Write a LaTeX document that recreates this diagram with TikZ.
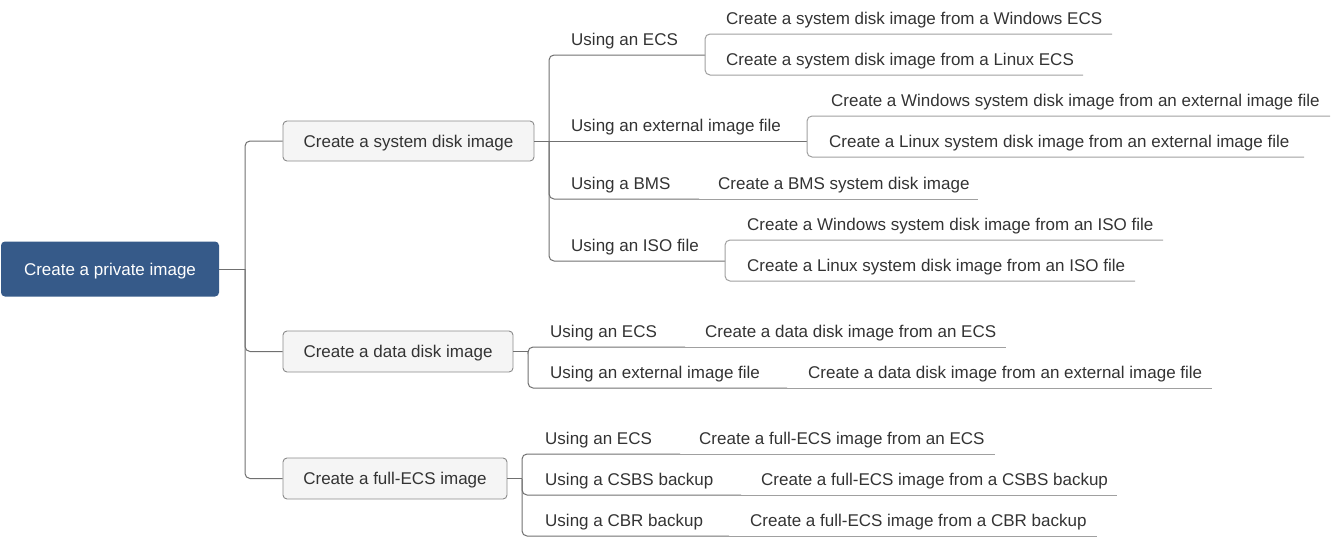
\documentclass[tikz,border=0pt]{standalone}
\usepackage{fontspec}
\setmainfont{Liberation Sans}
\definecolor{rootblue}{HTML}{365A89}
\definecolor{txt}{HTML}{333333}
\definecolor{conn}{HTML}{707070}
\definecolor{leafln}{HTML}{A0A0A0}
\definecolor{boxfill}{HTML}{F5F5F5}
\definecolor{boxdraw}{HTML}{8A8A8A}
\tikzset{
  lbl/.style={anchor=base west, inner sep=0pt, text=txt, yshift=-1pt, font=\fontsize{17}{20}\selectfont},
  rootbox/.style={fill=rootblue, rounded corners=4pt, text=white, inner sep=0pt, text height=12.2pt, text depth=0pt, font=\fontsize{17}{20}\selectfont},
  midbox/.style={fill=boxfill, draw=boxdraw, line width=0.9pt, rounded corners=4pt, text=txt, inner sep=0pt, text height=12.2pt, text depth=0pt, font=\fontsize{17}{20}\selectfont},
  cn/.style={draw=conn, line width=1pt, rounded corners=5pt},
  leaf/.style={draw=leafln, line width=1pt, rounded corners=5pt},
}
\begin{document}
\begin{tikzpicture}[x=1pt,y=-1pt]
\useasboundingbox (0,0) rectangle (1333,538);
% root and level 1
\node[rootbox, minimum width=218pt, minimum height=55pt] (root) at (110,269) {Create a private image};
\node[midbox, minimum width=251pt, minimum height=40pt] (sys) at (408.5,141) {Create a system disk image};
\node[midbox, minimum width=230pt, minimum height=41pt] (data) at (398,351.5) {Create a data disk image};
\node[midbox, minimum width=224pt, minimum height=41pt] (full) at (395,478.5) {Create a full-ECS image};
\coordinate (r) at (245,269);
\draw[cn] (root.east) -- (r);
\draw[cn] (r) |- (sys.west);
\draw[cn] (r) |- (data.west);
\draw[cn] (r) |- (full.west);

% ---------- system disk ----------
\coordinate (ks) at (549,141);
\draw[cn] (sys.east) -- (ks);
\node[lbl] (s1) at (571,44.5) {Using an ECS};
\node[lbl] (s2) at (571,130.5) {Using an external image file};
\node[lbl] (s3) at (571,188.5) {Using a BMS};
\node[lbl] (s4) at (571,250.5) {Using an ISO file};
\coordinate (js1) at (705,55);
\coordinate (js2) at (807,141);
\coordinate (js3) at (699,199);
\coordinate (js4) at (725,261);
\draw[cn] (ks) |- (js1);
\draw[cn] (ks) -- (js2);
\draw[cn] (ks) |- (js3);
\draw[cn] (ks) |- (js4);

\node[lbl] (s11) at (726,23.5) {Create a system disk image from a Windows ECS};
\node[lbl] (s12) at (726,64.5) {Create a system disk image from a Linux ECS};
\coordinate (e11) at (1112,34);
\coordinate (e12) at (1083,75);
\draw[leaf] (js1) |- (e11);
\draw[leaf] (js1) |- (e12);

\node[lbl] (s21) at (831,105.5) {Create a Windows system disk image from an external image file};
\node[lbl] (s22) at (829,146.5) {Create a Linux system disk image from an external image file};
\coordinate (e21) at (1330,116);
\coordinate (e22) at (1304,157);
\draw[leaf] (js2) |- (e21);
\draw[leaf] (js2) |- (e22);

\node[lbl] (s31) at (718,188.5) {Create a BMS system disk image};
\coordinate (e31) at (978,199);
\draw[leaf] (js3) -- (e31);

\node[lbl] (s41) at (747,229.5) {Create a Windows system disk image from an ISO file};
\node[lbl] (s42) at (747,270.5) {Create a Linux system disk image from an ISO file};
\coordinate (e41) at (1163,240);
\coordinate (e42) at (1135,281);
\draw[leaf] (js4) |- (e41);
\draw[leaf] (js4) |- (e42);

% ---------- data disk ----------
\coordinate (kd) at (528,351.5);
\draw[cn] (data.east) -- (kd);
\node[lbl] (d1) at (550,336.5) {Using an ECS};
\node[lbl] (d2) at (550,377.5) {Using an external image file};
\coordinate (jd1) at (685,347);
\coordinate (jd2) at (787,388);
\draw[cn] (kd) |- (jd1);
\draw[cn] (kd) |- (jd2);
\node[lbl] (d11) at (705,336.5) {Create a data disk image from an ECS};
\node[lbl] (d21) at (808,377.5) {Create a data disk image from an external image file};
\coordinate (f11) at (1006,347);
\coordinate (f21) at (1212,388);
\draw[leaf] (jd1) -- (f11);
\draw[leaf] (jd2) -- (f21);

% ---------- full-ECS ----------
\coordinate (kf) at (522,478.5);
\draw[cn] (full.east) -- (kf);
\node[lbl] (g1) at (545,443.5) {Using an ECS};
\node[lbl] (g2) at (545,484.5) {Using a CSBS backup};
\node[lbl] (g3) at (545,525.5) {Using a CBR backup};
\coordinate (jf1) at (680,454);
\coordinate (jf2) at (741,495);
\coordinate (jf3) at (729,536);
\draw[cn] (kf) |- (jf1);
\draw[cn] (kf) |- (jf2);
\draw[cn] (kf) |- (jf3);
\node[lbl] (g11) at (699,443.5) {Create a full-ECS image from an ECS};
\node[lbl] (g21) at (761,484.5) {Create a full-ECS image from a CSBS backup};
\node[lbl] (g31) at (750,525.5) {Create a full-ECS image from a CBR backup};
\coordinate (h11) at (995,454);
\coordinate (h21) at (1117,495);
\coordinate (h31) at (1097,536);
\draw[leaf] (jf1) -- (h11);
\draw[leaf] (jf2) -- (h21);
\draw[leaf] (jf3) -- (h31);
\end{tikzpicture}
\end{document}
